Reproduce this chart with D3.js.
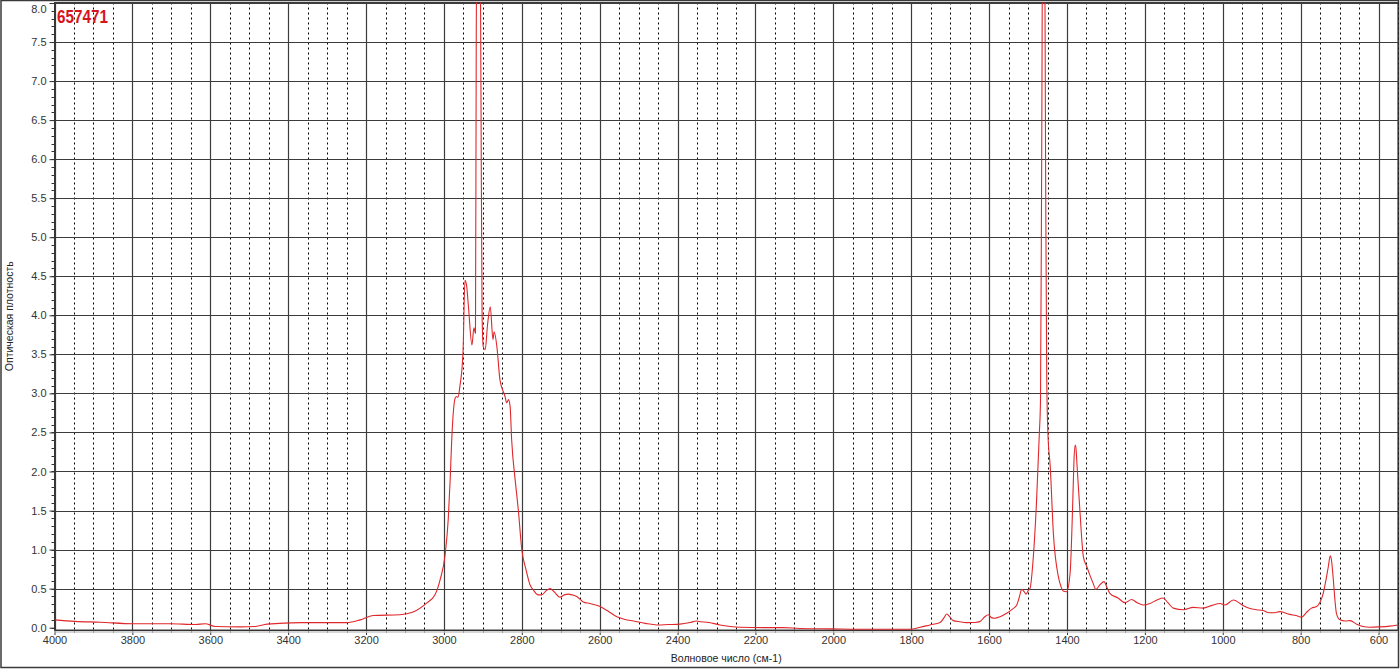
<!DOCTYPE html>
<html><head><meta charset="utf-8">
<script src="https://cdn.jsdelivr.net/npm/d3@7"></script>
<style>
html,body{margin:0;padding:0;background:#fff;}
svg{display:block;}
text{font-family:"Liberation Sans",Arial,sans-serif;}
</style></head>
<body>
<svg id="chart" width="1400" height="669"></svg>
<script>
// Spectrum: wavenumber (cm-1) and absorbance
const wavenumbers = [4000,3947,3883,3798,3703,3638,3613,3587,3523,3484,3454,3369,3249,3215,3182,3113,3079,3043,3023,3010,2997,2989,2984,2980,2971,2967,2964,2959,2951,2946,2942,2937,2928,2923,2919,2917,2914,2908,2905,2902,2899,2894,2888,2881,2874,2871,2864,2856,2843,2839,2834,2830,2826,2817,2809,2800,2789,2779,2770,2758,2749,2738,2727,2717,2702,2691,2680,2671,2659,2642,2625,2599,2578,2556,2535,2513,2483,2453,2424,2394,2368,2351,2340,2325,2309,2291,2265,2240,2171,2129,2086,2008,1931,1880,1803,1777,1752,1726,1716,1709,1703,1692,1675,1658,1636,1624,1611,1602,1593,1585,1572,1555,1541,1529,1523,1516,1510,1505,1499,1495,1487,1478,1471,1468,1465,1462,1458,1455,1452,1449,1443,1435,1422,1415,1410,1401,1392,1385,1382,1379,1377,1374,1367,1358,1349,1341,1333,1326,1315,1305,1297,1290,1269,1251,1234,1220,1204,1187,1169,1153,1141,1127,1101,1076,1050,1028,1007,994,973,947,930,913,896,884,870,853,828,812,797,786,772,759,750,742,735,729,724,721,716,712,708,699,686,673,656,640,622,597,571,550];
const absorbance = [0.10,0.08,0.07,0.05,0.05,0.04,0.05,0.015,0.01,0.015,0.045,0.065,0.065,0.10,0.155,0.165,0.20,0.32,0.42,0.61,0.93,1.38,1.89,2.40,2.94,2.96,2.95,3.09,3.52,4.45,4.39,4.11,3.62,3.84,3.77,7.5,9.5,9.5,7.0,4.0,3.60,3.56,3.88,4.11,3.69,3.79,3.60,3.17,2.96,2.88,2.92,2.83,2.40,1.89,1.51,1.00,0.74,0.55,0.48,0.42,0.42,0.47,0.50,0.46,0.39,0.42,0.43,0.42,0.40,0.33,0.31,0.27,0.21,0.14,0.105,0.085,0.055,0.035,0.04,0.045,0.065,0.085,0.075,0.07,0.055,0.035,0.015,0.005,0.0,0.0,-0.01,-0.015,-0.02,-0.02,-0.02,0.005,0.035,0.065,0.125,0.175,0.15,0.09,0.075,0.065,0.067,0.077,0.14,0.165,0.125,0.12,0.14,0.185,0.235,0.29,0.38,0.49,0.46,0.43,0.48,0.50,0.87,1.64,2.49,2.92,6.0,9.5,9.5,6.0,3.2,2.49,2.06,1.21,0.65,0.52,0.47,0.46,0.70,1.64,2.15,2.34,2.30,2.06,1.51,0.91,0.78,0.67,0.57,0.49,0.55,0.59,0.51,0.44,0.38,0.32,0.36,0.32,0.29,0.31,0.355,0.38,0.32,0.25,0.23,0.26,0.25,0.285,0.31,0.29,0.355,0.28,0.245,0.23,0.22,0.195,0.19,0.205,0.17,0.155,0.135,0.19,0.25,0.27,0.33,0.44,0.61,0.78,0.92,0.87,0.61,0.355,0.18,0.10,0.085,0.09,0.045,0.015,0.005,0.01,0.02,0.035];
const xMajorTicks = [4000,3800,3600,3400,3200,3000,2800,2600,2400,2200,2000,1800,1600,1400,1200,1000,800,600];
const yTicks = [0,0.5,1,1.5,2,2.5,3,3.5,4,4.5,5,5.5,6,6.5,7,7.5,8];
const sampleId = "657471";
const xTitle = "Волновое число (см-1)";
const yTitle = "Оптическая плотность";

const svg = d3.select("#chart");
const W = 1400, H = 669;
const L = 54.5, R = 1398, T = 2.5, B = 630;

const x = d3.scaleLinear().domain([4000, 550]).range([L, R]);
const y = d3.scaleLinear().domain([-0.03, 8.0]).range([B, 3]);

// outer frame
svg.append("rect").attr("x",1).attr("y",0.5).attr("width",W-2.5).attr("height",H-2)
  .attr("fill","#fff").attr("stroke","#3a3a3a").attr("stroke-width",1.5);

const g = svg.append("g");

// minor vertical dotted grid every 50
const minor = d3.range(3950, 549, -50).filter(v => v % 200 !== 0);
g.selectAll("line.vminor").data(minor).join("line")
  .attr("x1", d => Math.round(x(d))+0.5).attr("x2", d => Math.round(x(d))+0.5)
  .attr("y1", T).attr("y2", B)
  .attr("stroke","#000").attr("stroke-width",1).attr("stroke-dasharray","2,3");

// major vertical grid
g.selectAll("line.vmajor").data(xMajorTicks).join("line")
  .attr("x1", d => Math.round(x(d))+0.5).attr("x2", d => Math.round(x(d))+0.5)
  .attr("y1", T).attr("y2", B)
  .attr("stroke","#3c3c3c").attr("stroke-width",1.2);

// horizontal grid
g.selectAll("line.hgrid").data(yTicks.filter(v => v > 0)).join("line")
  .attr("x1", L).attr("x2", R)
  .attr("y1", d => Math.round(y(d))+0.5).attr("y2", d => Math.round(y(d))+0.5)
  .attr("stroke","#3c3c3c").attr("stroke-width",1.2);

// plot border
g.append("rect").attr("x",L).attr("y",T).attr("width",R-L).attr("height",B-T)
  .attr("fill","none").attr("stroke","#3c3c3c").attr("stroke-width",1);

// spectrum
svg.append("clipPath").attr("id","clip").append("rect")
  .attr("x",L).attr("y",T).attr("width",R-L).attr("height",B-T);
const data = wavenumbers.map((w,i) => [w, absorbance[i]]);
svg.append("path").datum(data)
  .attr("clip-path","url(#clip)")
  .attr("fill","none").attr("stroke","#e0272b").attr("stroke-width",1.1)
  .attr("stroke-linejoin","round")
  .attr("d", d3.line().x(d => x(d[0])).y(d => y(d[1])).curve(d3.curveMonotoneX));

// x axis
const xAxis = d3.axisBottom(x).tickValues(xMajorTicks).tickSize(5).tickSizeOuter(0).tickFormat(d3.format("d"));
const gx = svg.append("g").attr("transform",`translate(0,${B})`).call(xAxis);
gx.select(".domain").attr("stroke","#333");
gx.selectAll(".tick line").attr("stroke","#333");
gx.selectAll("text").attr("fill","#333").attr("font-size","11px").attr("dy","0.55em");
gx.selectAll("line.minorx").data(d3.range(4000, 549, -50)).join("line")
  .attr("x1", d => Math.round(x(d))+0.5).attr("x2", d => Math.round(x(d))+0.5)
  .attr("y1", 0).attr("y2", 3).attr("stroke","#333");
svg.append("line").attr("x1",L).attr("x2",R).attr("y1",B+2).attr("y2",B+2)
  .attr("stroke","#c8c8c8").attr("stroke-width",1.5);

// y axis
const yAxis = d3.axisLeft(y).tickValues(yTicks).tickSize(5).tickSizeOuter(0).tickFormat(d3.format(".1f"));
const gy = svg.append("g").attr("transform",`translate(${L},0)`).call(yAxis);
gy.select(".domain").attr("stroke","#333");
gy.selectAll(".tick line").attr("stroke","#333");
gy.selectAll("text").attr("fill","#333").attr("font-size","11px");
// keep the top label inside the picture
gy.selectAll(".tick text").filter(d => d === 8).attr("dy","0.85em");
gy.selectAll("line.minory").data(d3.range(0, 8.01, 0.1)).join("line")
  .attr("x1", -3).attr("x2", 0)
  .attr("y1", d => Math.round(y(d))+0.5).attr("y2", d => Math.round(y(d))+0.5).attr("stroke","#333");

// titles
svg.append("text").attr("x", (L+R)/2).attr("y", 662).attr("text-anchor","middle")
  .attr("font-size","10.5px").attr("fill","#222").text(xTitle);
svg.append("text").attr("transform",`translate(13,${(T+B)/2}) rotate(-90)`).attr("text-anchor","middle")
  .attr("font-size","10.5px").attr("fill","#222").text(yTitle);

// sample id
svg.append("text").attr("x", 57).attr("y", 23)
  .attr("font-weight","bold").attr("font-size","18px").attr("fill","#d8141c")
  .attr("textLength", 51).attr("lengthAdjust","spacingAndGlyphs").text(sampleId);
</script>
</body></html>
